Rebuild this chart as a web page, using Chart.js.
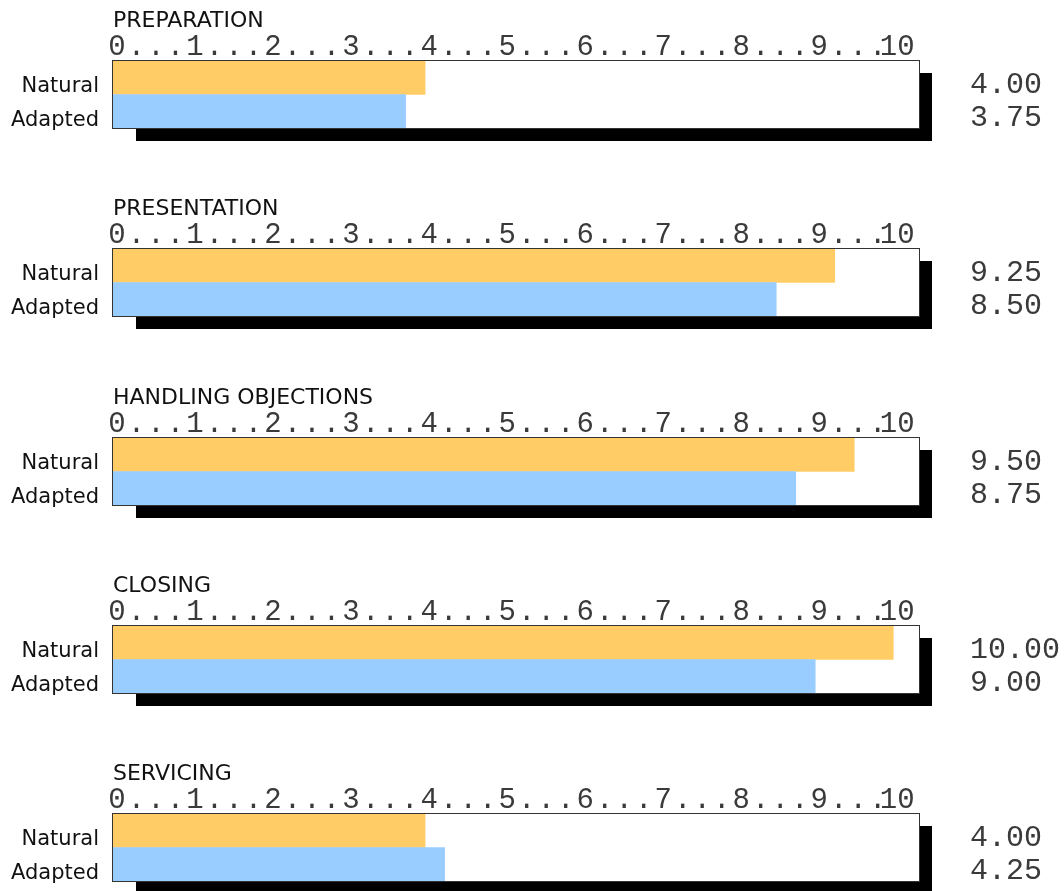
<!DOCTYPE html>
<html>
<head>
<meta charset="utf-8">
<script src="https://cdn.jsdelivr.net/npm/chart.js@4.4.1/dist/chart.umd.min.js"></script>
<style>
html, body { margin: 0; padding: 0; background: #fff; overflow: hidden; }
#wrap { position: relative; width: 1064px; height: 891px; }
#wrap canvas { position: absolute; left: 0; }
</style>
</head>
<body>
<div id="wrap"></div>
<script>
// --- data ---
const categories = ['PREPARATION', 'PRESENTATION', 'HANDLING OBJECTIONS', 'CLOSING', 'SERVICING'];
const rowLabels = ['Natural', 'Adapted'];
const natural = [4.00, 9.25, 9.50, 10.00, 4.00];
const adapted = [3.75, 8.50, 8.75, 9.00, 4.25];
const tickMax = 10;
const rowColors = ['#FFCC66', '#99CCFF'];

const monoFont = "'Liberation Mono', 'DejaVu Sans Mono', monospace";
const sansFont = "'DejaVu Sans', Verdana, sans-serif";

// white box with black drop shadow, thin frame, and values column on the right
const panelDecor = {
    id: 'panelDecor',
    beforeDatasetsDraw(chart) {
        const { ctx, chartArea: a } = chart;
        ctx.save();
        ctx.fillStyle = '#000';
        ctx.fillRect(a.left + 23, a.top + 12, a.width - 10, a.height + 1);
        ctx.fillStyle = '#fff';
        ctx.fillRect(a.left, a.top, a.width, a.height);
        ctx.restore();
    },
    afterDraw(chart) {
        const { ctx, chartArea: a } = chart;
        ctx.save();
        ctx.strokeStyle = '#333';
        ctx.lineWidth = 1;
        ctx.strokeRect(a.left - 0.5, a.top - 0.5, a.width + 1, a.height + 1);

        const vals = chart.data.datasets[0].data;
        const meta = chart.getDatasetMeta(0);
        ctx.fillStyle = '#3a3a3a';
        ctx.font = `30px ${monoFont}`;
        ctx.textAlign = 'left';
        ctx.textBaseline = 'middle';
        meta.data.forEach((bar, j) => {
            ctx.fillText(vals[j].toFixed(2), a.right + 51, bar.y + 7);
        });
        ctx.restore();
    }
};

const wrap = document.getElementById('wrap');

categories.forEach((cat, i) => {
    const canvas = document.createElement('canvas');
    canvas.width = 1064;
    canvas.height = 188;
    canvas.style.top = Math.round(i * 188.25) + 'px';
    wrap.appendChild(canvas);

    new Chart(canvas, {
        type: 'bar',
        data: {
            labels: rowLabels,
            datasets: [{
                data: [natural[i], adapted[i]],
                backgroundColor: rowColors,
                borderWidth: 0,
                categoryPercentage: 1,
                barPercentage: 1
            }]
        },
        options: {
            indexAxis: 'y',
            responsive: false,
            animation: false,
            layout: { padding: { left: 0, right: 145, top: 0, bottom: 60 } },
            plugins: { legend: { display: false }, tooltip: { enabled: false } },
            scales: {
                x: {
                    position: 'top',
                    min: 0,
                    max: 10.33,
                    afterBuildTicks: (s) => { s.ticks = s.ticks.filter(t => t.value <= tickMax); },
                    ticks: {
                        stepSize: 0.25,
                        autoSkip: false,
                        maxRotation: 0,
                        minRotation: 0,
                        padding: -1,
                        labelOffset: 4,
                        color: '#3a3a3a',
                        font: { family: monoFont, size: 29, lineHeight: 1 },
                        callback: (v) => Number.isInteger(v) ? String(v) : '.'
                    },
                    grid: { display: false, drawTicks: false },
                    border: { display: false },
                    title: {
                        display: true,
                        text: cat,
                        align: 'start',
                        color: '#111',
                        font: { family: sansFont, size: 22, lineHeight: 1 },
                        padding: { top: 10, bottom: 0 }
                    },
                    afterFit: (s) => { s.height = 61; }
                },
                y: {
                    ticks: {
                        color: '#111',
                        font: { family: sansFont, size: 21 },
                        padding: 14,
                        labelOffset: 9
                    },
                    grid: { display: false, drawTicks: false },
                    border: { display: false },
                    afterFit: (s) => { s.width = 113; }
                }
            }
        },
        plugins: [panelDecor]
    });
});
</script>
</body>
</html>
